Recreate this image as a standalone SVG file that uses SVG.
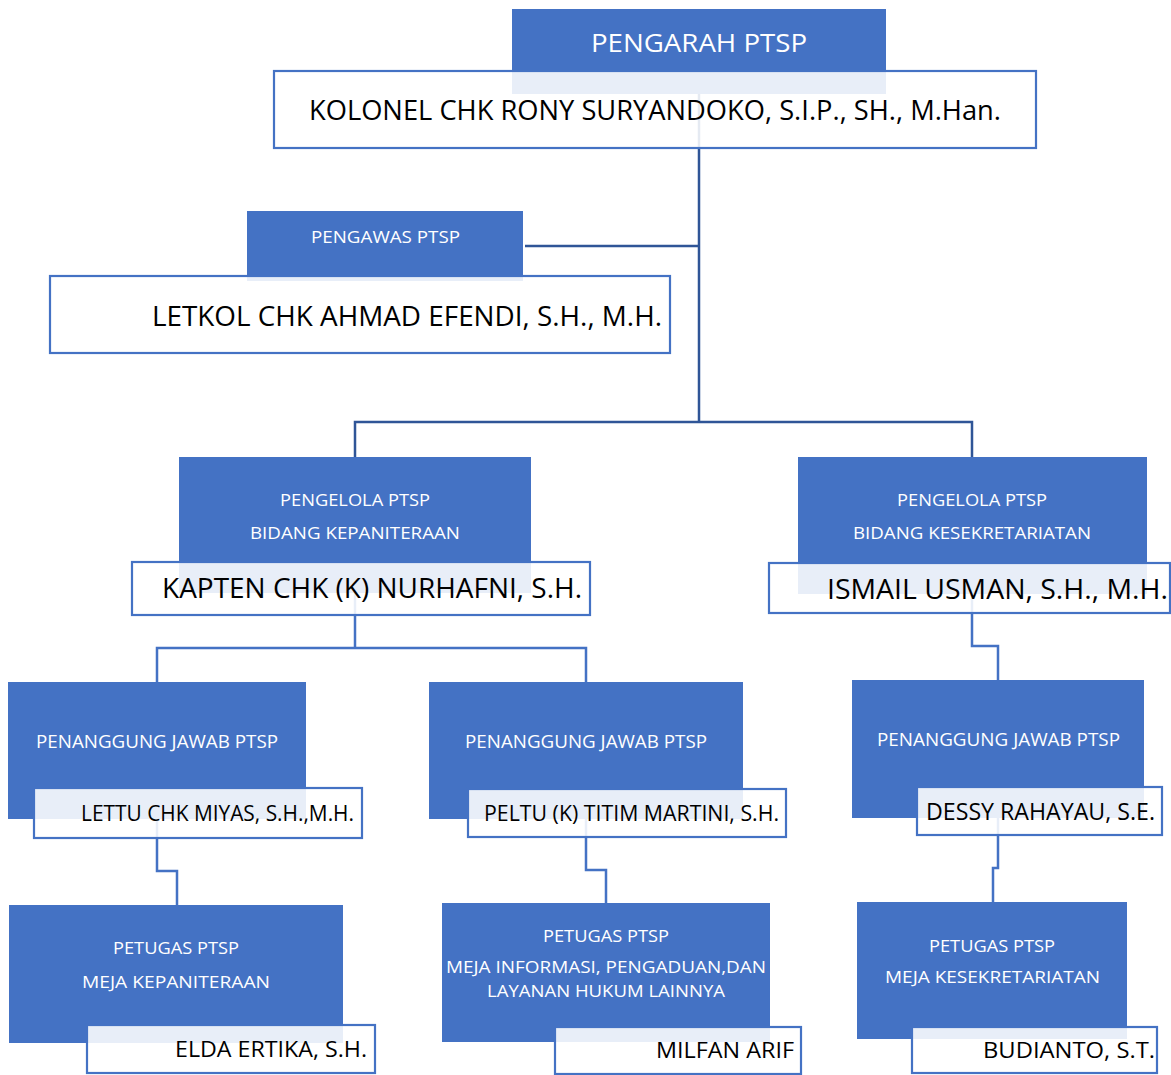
<svg xmlns="http://www.w3.org/2000/svg" width="1171" height="1075" viewBox="0 0 1171 1075">
<style>
.blue{fill:#4472C4;}
.name{fill:#FFFFFF;fill-opacity:0.88;stroke:#4472C4;stroke-width:2.2;}
.t{font-family:"Open Sans","Noto Sans","Liberation Sans",sans-serif;fill:#FFFFFF;}
.n{font-family:"Open Sans","Noto Sans","Liberation Sans",sans-serif;fill:#000000;}
.c1{fill:none;stroke:#2F5597;stroke-width:2.5;}
.c2{fill:none;stroke:#4472C4;stroke-width:2.5;}
</style>
<rect width="1171" height="1075" fill="#FFFFFF"/>
<g id="connectors">
<path class="c1" d="M699 94 V422"/>
<path class="c1" d="M525 246 H699"/>
<path class="c1" d="M355 457 V422 H972 V457"/>
<path class="c2" d="M355 593 V648"/>
<path class="c2" d="M157 683 V648 H586 V683"/>
<path class="c2" d="M972 594 V646 H998 V680"/>
<path class="c2" d="M157 819 V871 H177 V905"/>
<path class="c2" d="M586 819 V870 H606 V903"/>
<path class="c2" d="M998 818 V868 H993 V902"/>
</g>
<g id="pengarah">
<rect class="blue" x="512" y="9" width="374" height="85"/>
<rect class="name" x="274" y="71" width="762" height="77"/>
<text class="t" x="591" y="52" font-size="26" textLength="216" lengthAdjust="spacingAndGlyphs">PENGARAH PTSP</text>
<text class="n" x="309" y="120" font-size="28" textLength="692" lengthAdjust="spacingAndGlyphs">KOLONEL CHK RONY SURYANDOKO, S.I.P., SH., M.Han.</text>
</g>
<g id="pengawas">
<rect class="blue" x="247" y="211" width="276" height="70"/>
<rect class="name" x="50" y="276" width="620" height="77"/>
<text class="t" x="311" y="243" font-size="16.5" textLength="149" lengthAdjust="spacingAndGlyphs">PENGAWAS PTSP</text>
<text class="n" x="152" y="326" font-size="28" textLength="510" lengthAdjust="spacingAndGlyphs">LETKOL CHK AHMAD EFENDI, S.H., M.H.</text>
</g>
<g id="pengelola-kepaniteraan">
<rect class="blue" x="179" y="457" width="352" height="136"/>
<rect class="name" x="132" y="562" width="458" height="53"/>
<text class="t" x="280" y="506" font-size="16.5" textLength="150" lengthAdjust="spacingAndGlyphs">PENGELOLA PTSP</text>
<text class="t" x="250" y="539" font-size="16.5" textLength="210" lengthAdjust="spacingAndGlyphs">BIDANG KEPANITERAAN</text>
<text class="n" x="162" y="598" font-size="28" textLength="420" lengthAdjust="spacingAndGlyphs">KAPTEN CHK (K) NURHAFNI, S.H.</text>
</g>
<g id="pengelola-kesekretariatan">
<rect class="blue" x="798" y="457" width="349" height="137"/>
<rect class="name" x="769" y="563" width="401" height="50"/>
<text class="t" x="897" y="506" font-size="16.5" textLength="150" lengthAdjust="spacingAndGlyphs">PENGELOLA PTSP</text>
<text class="t" x="853" y="539" font-size="16.5" textLength="238" lengthAdjust="spacingAndGlyphs">BIDANG KESEKRETARIATAN</text>
<text class="n" x="827" y="599" font-size="28" textLength="341" lengthAdjust="spacingAndGlyphs">ISMAIL USMAN, S.H., M.H.</text>
</g>
<g id="pj-miyas">
<rect class="blue" x="8" y="682" width="298" height="137"/>
<rect class="name" x="34" y="788" width="328" height="50"/>
<text class="t" x="36" y="748" font-size="18" textLength="242" lengthAdjust="spacingAndGlyphs">PENANGGUNG JAWAB PTSP</text>
<text class="n" x="81" y="821" font-size="22" textLength="273" lengthAdjust="spacingAndGlyphs">LETTU CHK MIYAS, S.H.,M.H.</text>
</g>
<g id="pj-titim">
<rect class="blue" x="429" y="682" width="314" height="137"/>
<rect class="name" x="468" y="789" width="318" height="48"/>
<text class="t" x="465" y="748" font-size="18" textLength="242" lengthAdjust="spacingAndGlyphs">PENANGGUNG JAWAB PTSP</text>
<text class="n" x="484" y="821" font-size="22" textLength="295" lengthAdjust="spacingAndGlyphs">PELTU (K) TITIM MARTINI, S.H.</text>
</g>
<g id="pj-dessy">
<rect class="blue" x="852" y="680" width="292" height="138"/>
<rect class="name" x="917" y="787" width="245" height="48"/>
<text class="t" x="877" y="746" font-size="18" textLength="243" lengthAdjust="spacingAndGlyphs">PENANGGUNG JAWAB PTSP</text>
<text class="n" x="926" y="820" font-size="24" textLength="229" lengthAdjust="spacingAndGlyphs">DESSY RAHAYAU, S.E.</text>
</g>
<g id="petugas-kepaniteraan">
<rect class="blue" x="9" y="905" width="334" height="138"/>
<rect class="name" x="87" y="1025" width="288" height="48"/>
<text class="t" x="113" y="954" font-size="16.5" textLength="126" lengthAdjust="spacingAndGlyphs">PETUGAS PTSP</text>
<text class="t" x="82" y="988" font-size="16.5" textLength="188" lengthAdjust="spacingAndGlyphs">MEJA KEPANITERAAN</text>
<text class="n" x="175" y="1057" font-size="22" textLength="192" lengthAdjust="spacingAndGlyphs">ELDA ERTIKA, S.H.</text>
</g>
<g id="petugas-informasi">
<rect class="blue" x="442" y="903" width="328" height="139"/>
<rect class="name" x="555" y="1027" width="246" height="47"/>
<text class="t" x="543" y="942" font-size="16.5" textLength="126" lengthAdjust="spacingAndGlyphs">PETUGAS PTSP</text>
<text class="t" x="446" y="973" font-size="16.5" textLength="320" lengthAdjust="spacingAndGlyphs">MEJA INFORMASI, PENGADUAN,DAN</text>
<text class="t" x="487" y="997" font-size="16.5" textLength="238" lengthAdjust="spacingAndGlyphs">LAYANAN HUKUM LAINNYA</text>
<text class="n" x="656" y="1058" font-size="22" textLength="138" lengthAdjust="spacingAndGlyphs">MILFAN ARIF</text>
</g>
<g id="petugas-kesekretariatan">
<rect class="blue" x="857" y="902" width="270" height="137"/>
<rect class="name" x="912" y="1027" width="245" height="46"/>
<text class="t" x="929" y="952" font-size="16.5" textLength="126" lengthAdjust="spacingAndGlyphs">PETUGAS PTSP</text>
<text class="t" x="885" y="983" font-size="16.5" textLength="215" lengthAdjust="spacingAndGlyphs">MEJA KESEKRETARIATAN</text>
<text class="n" x="983" y="1058" font-size="22" textLength="172" lengthAdjust="spacingAndGlyphs">BUDIANTO, S.T.</text>
</g>
</svg>
